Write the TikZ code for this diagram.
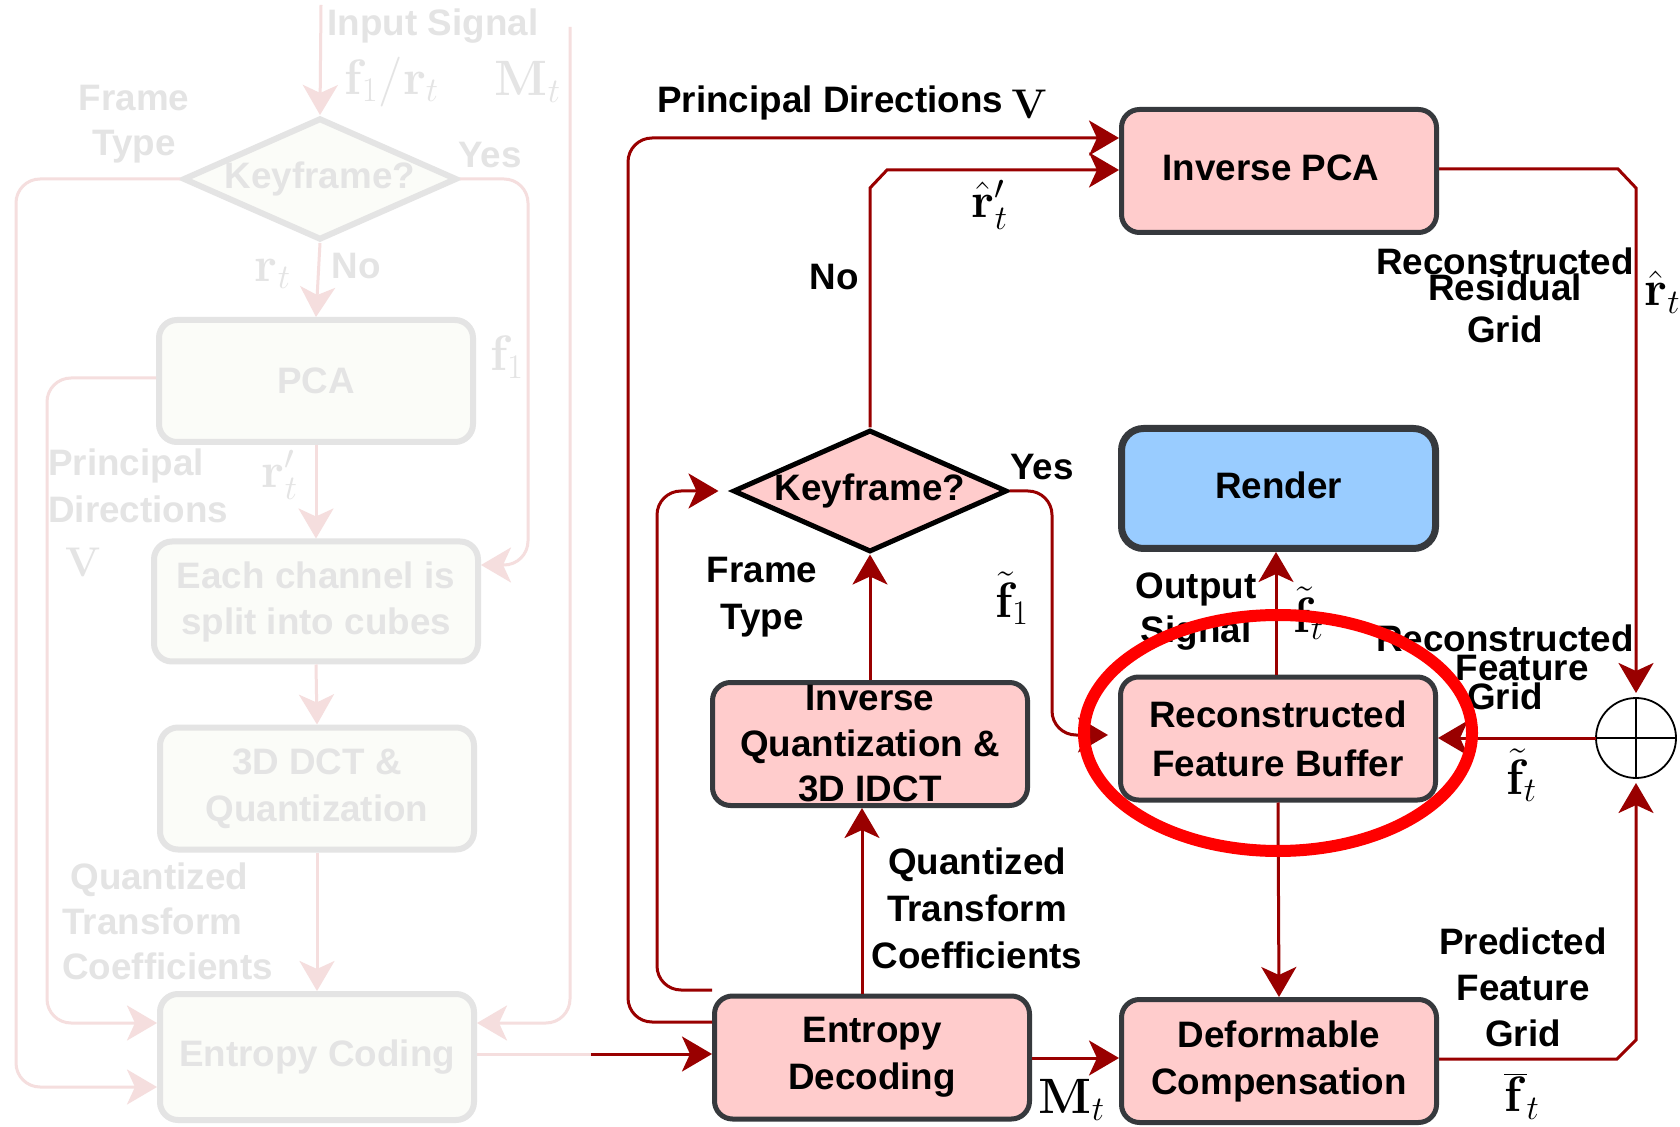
\documentclass[tikz,border=0pt]{standalone}
\usepackage[no-math]{fontspec}
\setmainfont{Liberation Sans}
\usetikzlibrary{arrows.meta,calc,shapes.geometric}

\definecolor{wire}{HTML}{990000}
\definecolor{boxedge}{HTML}{36393D}
\definecolor{boxfill}{HTML}{FFCCCC}
\definecolor{renderfill}{HTML}{99CCFF}
\definecolor{ghosttext}{HTML}{E4E4E4}
\definecolor{ghostedge}{HTML}{E4E4E4}
\definecolor{ghostfill}{HTML}{FBFCF8}
\definecolor{ghostwire}{HTML}{F5DEDE}
\definecolor{hilite}{HTML}{FF0000}

\newcommand{\lblfont}{\fontsize{18.4}{23.5}\selectfont\bfseries}
\newcommand{\eqfont}{\fontsize{23}{27}\selectfont}

\begin{document}
\begin{tikzpicture}[x=0.5pt,y=-0.5pt,
  conn/.style={draw=wire, line width=1.5pt, -{Stealth[length=15pt,width=17.5pt,inset=4pt]}},
  ghostconn/.style={draw=ghostwire, line width=1.5pt, -{Stealth[length=15pt,width=17.5pt,inset=4pt]}},
  ghostline/.style={draw=ghostwire, line width=1.5pt},
  stage/.style={draw=boxedge, fill=boxfill, line width=2.5pt, rounded corners=9pt,
    inner sep=0pt, align=center, font=\lblfont, minimum width=157.5pt, minimum height=61.5pt},
  viewbox/.style={stage, fill=renderfill, line width=3.5pt, rounded corners=11pt,
    minimum width=157pt, minimum height=60pt},
  decision/.style={diamond, draw=black, fill=boxfill, line width=2.5pt, inner sep=0pt,
    minimum width=137pt, minimum height=61pt},
  ghoststage/.style={draw=ghostedge, fill=ghostfill, line width=3pt, rounded corners=9pt,
    inner sep=0pt, align=center, font=\lblfont, text=ghosttext,
    minimum width=157pt, minimum height=61pt},
  ghostdecision/.style={diamond, draw=ghostedge, fill=ghostfill, line width=3pt, inner sep=0pt,
    minimum width=137pt, minimum height=61pt},
  lbl/.style={font=\lblfont, inner sep=0pt, align=center},
  ghostlbl/.style={lbl, text=ghosttext},
  eq/.style={font=\eqfont, inner sep=0pt},
  ghosteq/.style={eq, text=ghosttext}
]
\useasboundingbox (0,0) rectangle (1680,1127);
\fill[white] (0,0) rectangle (1680,1127);

% ---------------- encoder (faded) ----------------
\node[ghostdecision, label={[ghostlbl]center:Keyframe?}] (fkf) at (320,179) {};
\node[ghoststage] (fpca) at (316,381) {PCA};
\node[ghoststage, minimum width=162pt, minimum height=60pt] (fsplit) at (316,601.5)
  {Each channel is\\[-0.5pt]split into cubes};
\node[ghoststage] (fdct) at (317,788.5) {3D DCT \&\\Quantization};
\node[ghoststage, minimum height=63pt] (fec) at (317,1057) {Entropy Coding};

\coordinate (fin) at (321,5);
\draw[ghostconn] (fin) -- (fkf.north);
\draw[ghostconn] (fkf.south) -- (fpca.north);
\draw[ghostconn] (fpca.south) -- (fsplit.north);
\draw[ghostconn] (fsplit.south) -- (fdct.north);
\draw[ghostconn] (fdct.south) -- (fec.north);

\coordinate (fl1) at (47,378);
\coordinate (fl2) at (47,1023);
\draw[ghostconn, rounded corners=12pt] (fpca.west |- fl1) -- (fl1) -- (fl2) -- (fec.west |- fl2);
\coordinate (fo1) at (16,0);
\coordinate (fo2) at (16,1087);
\draw[ghostconn, rounded corners=12pt] (fkf.west) -- (fkf.west -| fo1) -- (fo2) -- (fec.west |- fo2);
\coordinate (fr1) at (528,0);
\coordinate (fr2) at (528,565);
\draw[ghostconn, rounded corners=12pt] (fkf.east) -- (fkf.east -| fr1) -- (fr2) -- (fsplit.east |- fr2);
\coordinate (fm1) at (570,27);
\coordinate (fm2) at (570,1023);
\draw[ghostconn, rounded corners=12pt] (fm1) -- (fm2) -- (fec.east |- fm2);

\node[ghostlbl, anchor=base] at (433,36) {Input Signal};
\node[ghosteq] at (392,82) {$\mathbf{f}_1/\mathbf{r}_t$};
\node[ghosteq] at (528,82) {$\mathbf{M}_t$};
\node[ghostlbl, font=\fontsize{18.4}{22.5}\selectfont\bfseries] at (134,124) {Frame\\Type};
\node[ghostlbl, anchor=base] at (490,168) {Yes};
\node[ghosteq] at (273,274) {$\mathbf{r}_t$};
\node[ghostlbl, anchor=base] at (356,279) {No};
\node[ghosteq] at (507,357) {$\mathbf{f}_1$};
\node[ghostlbl, align=left, anchor=west] at (48,486) {Principal\\Directions};
\node[ghosteq] at (280,475) {$\mathbf{r}'_t$};
\node[ghosteq, font=\fontsize{20}{24}\selectfont] at (83,562) {$\mathbf{V}$};
\node[ghostlbl, align=left, anchor=west, font=\fontsize{18.4}{22.5}\selectfont\bfseries] at (62,921)
  {\hspace*{4pt}Quantized\\Transform\\Coefficients};

% ---------------- decoder ----------------
\node[stage] (ipca) at (1279,171) {\raisebox{3pt}{Inverse PCA}\hspace*{8pt}};
\node[viewbox] (render) at (1278.5,488.5) {\raisebox{3.5pt}{Render}};
\node[decision, label={[lbl]center:Keyframe?}] (kf) at (870,491) {};
\node[stage, font=\fontsize{18.4}{22.75}\selectfont\bfseries] (iq) at (870,744)
  {Inverse\\Quantization \&\\3D IDCT};
\node[stage, font=\fontsize{18.4}{24.5}\selectfont\bfseries] (buffer) at (1278,738.5)
  {Reconstructed\\Feature Buffer};
\node[stage] (ed) at (872,1057.5) {Entropy\\Decoding\hspace*{0pt}};
\node[stage] (dc) at (1279,1061) {Deformable\\Compensation};
\node[circle, draw=black, line width=0.9pt, minimum size=40pt, inner sep=0pt, outer sep=0pt]
  (sum) at (1636,738) {};
\draw[line width=0.9pt] (sum.north) -- (sum.south) (sum.west) -- (sum.east);

% principal directions V
\coordinate (pdA) at (628,1022);
\coordinate (pdB) at (628,138);
\draw[conn, rounded corners=12pt] (ed.west |- pdA) -- (pdA) -- (pdB) -- (ipca.west |- pdB);
% frame type back to the decision
\coordinate (ftA) at (657,990);
\coordinate (ftB) at (ftA |- kf.west);
\draw[conn, rounded corners=12pt, shorten >=6pt] (ed.west |- ftA) -- (ftA) -- (ftB) -- (kf.west);
% keyframe: yes
\coordinate (yesX) at (1052,0);
\coordinate (inY) at (0,735);
\draw[conn, rounded corners=12pt, shorten >=5pt] (kf.east) -- (kf.east -| yesX) -- (yesX |- inY) -- (buffer.west |- inY);
% keyframe: no
\coordinate (noA) at (0,188);
\coordinate (noB) at (887,170);
\draw[conn] (kf.north) -- (kf.north |- noA) -- (noB) -- (ipca.west |- noB);
% vertical flow
\draw[conn] (iq.north) -- (kf.south);
\coordinate (qX) at (862,0);
\draw[conn] (ed.north -| qX) -- (iq.south -| qX);
\coordinate (mY) at (0,1058);
\draw[conn] (ed.east |- mY) -- (dc.west |- mY);
\coordinate (oX) at (1276,0);
\draw[conn] (buffer.north -| oX) -- (render.south -| oX);
\draw[conn] (buffer.south) -- (dc.north);
% residual and prediction into the adder
\coordinate (rA) at (1618,169);
\coordinate (rB) at (1636,188);
\draw[conn, shorten >=2.5pt] (ipca.east |- rA) -- (rA) -- (rB) -- (sum.north);
\draw[conn] (sum.west) -- (buffer.east |- sum.west);
\coordinate (pA) at (1617,1059);
\coordinate (pB) at (1636,1040);
\draw[conn, shorten >=2.5pt] (dc.east |- pA) -- (pA) -- (pB) -- (sum.south);
% bitstream from encoder to decoder
\coordinate (bsY) at (0,1054);
\coordinate (bsX) at (591,1054);
\draw[ghostline] (fec.east |- bsY) -- (bsX);
\draw[conn] (bsX) -- (ed.west |- bsY);

% decoder labels
\node[lbl, anchor=base west] at (657,113) {Principal Directions};
\node[eq, anchor=base west, font=\fontsize{21}{24}\selectfont] at (1011,119) {$\mathbf{V}$};
\node[eq] at (990,205) {$\hat{\mathbf{r}}'_t$};
\node[lbl, anchor=base] at (834,290) {No};
\node[lbl, anchor=base] at (1042,480) {Yes};
\node[eq] at (1012,598) {$\tilde{\mathbf{f}}_1$};
\node[lbl] at (762,597) {Frame\\Type};
\node[lbl] at (977,908) {Quantized\\Transform\\Coefficients};
\node[eq] at (1072,1100) {$\mathbf{M}_t$};
\node[lbl, font=\fontsize{18.4}{22}\selectfont\bfseries] at (1196,612) {Output\\Signal};
\node[eq] at (1309,613) {$\tilde{\mathbf{f}}_t$};
\node[lbl, font=\fontsize{18.4}{21}\selectfont\bfseries] at (1505,295) {Reconstructed\\[-8pt]Residual\\Grid};
\node[eq, anchor=west] at (1644,292) {$\hat{\mathbf{r}}_t$};
\node[lbl] at (1505,667) {Reconstructed\\[-9pt]\hspace*{17pt}Feature\\[-9pt]Grid};
\node[eq] at (1522,775) {$\tilde{\mathbf{f}}_t$};
\node[lbl, font=\fontsize{18.4}{23}\selectfont\bfseries] at (1523,987) {Predicted\\Feature\\Grid};
\node[eq] at (1522,1096) {$\overline{\mathbf{f}}_t$};

% highlight around the feature buffer
\draw[hilite, line width=6pt] (1278,733) ellipse [x radius=97pt, y radius=59pt];
\end{tikzpicture}
\end{document}
